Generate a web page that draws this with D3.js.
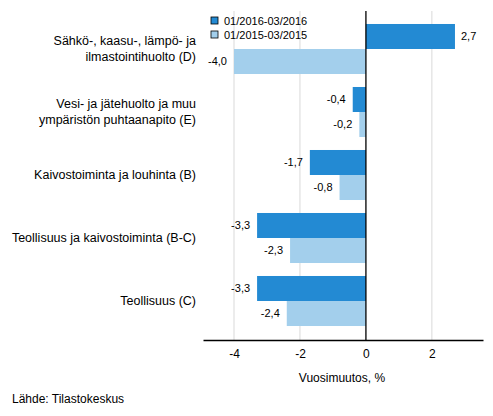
<!DOCTYPE html>
<html>
<head>
<meta charset="utf-8">
<script src="https://cdn.jsdelivr.net/npm/d3@7"></script>
<style>
  body { margin: 0; background: #fff; }
  text { font-family: "Liberation Sans", Arial, sans-serif; fill: #000; }
</style>
</head>
<body>
<svg width="493" height="416"></svg>
<script>
// Categories, one row of labels per line
const categories = [
    ["Sähkö-, kaasu-, lämpö- ja", "ilmastointihuolto (D)"],
    ["Vesi- ja jätehuolto ja muu", "ympäristön puhtaanapito (E)"],
    ["Kaivostoiminta ja louhinta (B)"],
    ["Teollisuus ja kaivostoiminta (B-C)"],
    ["Teollisuus (C)"]
];
const seriesNames = ["01/2016-03/2016", "01/2015-03/2015"];
const values2016 = [2.7, -0.4, -1.7, -3.3, -3.3];
const values2015 = [-4.0, -0.2, -0.8, -2.3, -2.4];
const tickValues = [-4, -2, 0, 2];
const colors = ["#238ad3", "#a3cfec"];

const svg = d3.select("svg");

// x scale: zero at 366, 33px per unit
const x = d3.scaleLinear().domain([-4.94, 3.55]).range([203, 483]);

// one band per category, two bars inside
const keys = categories.map((c, i) => i);
const y = d3.scaleBand()
    .domain(keys)
    .range([17.5, 332.5])
    .paddingInner(0.206)
    .paddingOuter(0.103);
const ySub = d3.scaleBand().domain([0, 1]).range([0, y.bandwidth()]);

const plotTop = 11, plotBottom = 340;

// gridlines
svg.append("g")
    .selectAll("line")
    .data(tickValues.filter(d => d !== 0))
    .enter()
    .append("line")
    .attr("x1", d => x(d)).attr("x2", d => x(d))
    .attr("y1", plotTop).attr("y2", plotBottom)
    .attr("stroke", "#d9d9d9")
    .attr("stroke-width", 1);

// bars
const series = [values2016, values2015];
const rows = [];
series.forEach((vals, s) => vals.forEach((v, i) => rows.push({ s, i, v })));

svg.append("g")
    .selectAll("rect")
    .data(rows)
    .enter()
    .append("rect")
    .attr("x", d => x(Math.min(0, d.v)))
    .attr("width", d => Math.abs(x(d.v) - x(0)))
    .attr("y", d => y(d.i) + ySub(d.s))
    .attr("height", ySub.bandwidth())
    .attr("fill", d => colors[d.s]);

// value labels
const fmt = v => d3.format(".1f")(v).replace(".", ",").replace("−", "-");
svg.append("g")
    .selectAll("text")
    .data(rows)
    .enter()
    .append("text")
    .attr("x", d => d.v < 0 ? x(d.v) - 7 : x(d.v) + 6)
    .attr("y", d => y(d.i) + ySub(d.s) + ySub.bandwidth() / 2)
    .attr("dy", "0.35em")
    .attr("text-anchor", d => d.v < 0 ? "end" : "start")
    .attr("font-size", 11)
    .text(d => fmt(d.v));

// zero line
svg.append("line")
    .attr("x1", x(0)).attr("x2", x(0))
    .attr("y1", plotTop).attr("y2", plotBottom)
    .attr("stroke", "#000")
    .attr("stroke-width", 1.3);

// x axis
const xAxis = svg.append("g")
    .attr("transform", `translate(0,${plotBottom})`)
    .call(d3.axisBottom(x).tickValues(tickValues).tickSize(0).tickPadding(9)
        .tickFormat(d => String(d).replace("−", "-")));
xAxis.select(".domain").attr("stroke", "#000").attr("stroke-width", 1.3);
xAxis.selectAll("text").attr("font-size", 12).attr("fill", "#000")
    .attr("font-family", "Liberation Sans, Arial, sans-serif");

svg.append("text")
    .attr("x", 342).attr("y", 382)
    .attr("text-anchor", "middle")
    .attr("font-size", 12)
    .text("Vuosimuutos, %");

// category labels
const cat = svg.append("g")
    .selectAll("text")
    .data(categories)
    .enter()
    .append("text")
    .attr("text-anchor", "end")
    .attr("font-size", 12.5)
    .attr("y", (d, i) => y(i) + y.bandwidth() / 2 - (d.length - 1) * 8 + 4);
cat.selectAll("tspan")
    .data(d => d)
    .enter()
    .append("tspan")
    .attr("x", 196)
    .attr("dy", (d, j) => j === 0 ? 0 : 16)
    .text(d => d);

// legend
const legend = svg.append("g")
    .selectAll("g")
    .data(seriesNames)
    .enter()
    .append("g")
    .attr("transform", (d, i) => `translate(211,${17 + i * 14})`);
legend.append("rect")
    .attr("width", 7).attr("height", 7)
    .attr("fill", (d, i) => colors[i])
    .attr("stroke", "#000").attr("stroke-width", 0.8);
legend.append("text")
    .attr("x", 13).attr("y", 4)
    .attr("dy", "0.35em")
    .attr("font-size", 11)
    .text(d => d);

// source
svg.append("text")
    .attr("x", 12).attr("y", 403)
    .attr("font-size", 12)
    .text("Lähde: Tilastokeskus");
</script>
</body>
</html>
